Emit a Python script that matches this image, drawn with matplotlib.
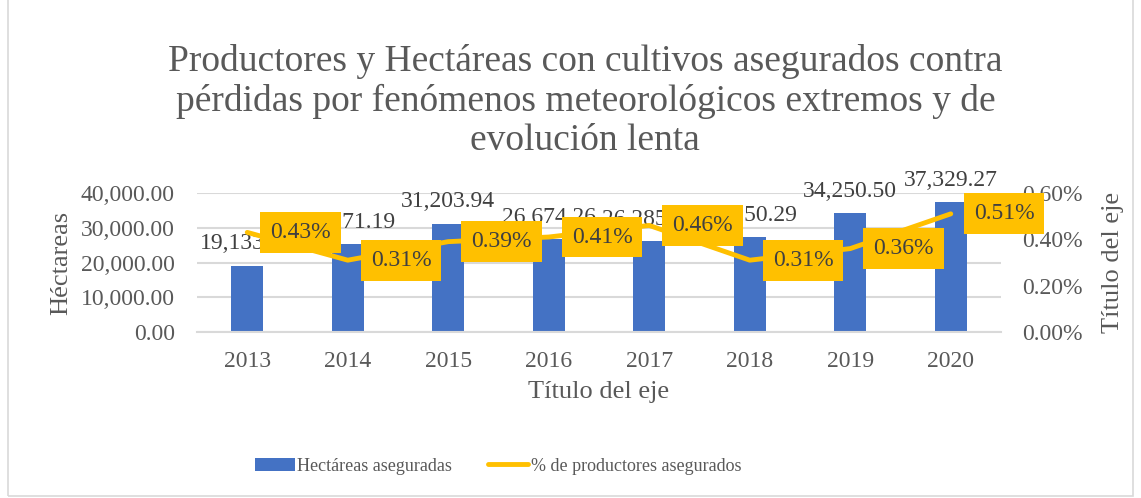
import matplotlib.pyplot as plt
from matplotlib.ticker import FuncFormatter

plt.rcParams['font.family'] = ['Liberation Serif', 'DejaVu Serif']

# datos
anios = ['2013', '2014', '2015', '2016', '2017', '2018', '2019', '2020']
hectareas = [19133.45, 25271.19, 31203.94, 26674.26, 26285.13, 27250.29, 34250.50, 37329.27]
pct_productores = [0.43, 0.31, 0.39, 0.41, 0.46, 0.31, 0.36, 0.51]

azul = '#4472C4'
amarillo = '#FFC000'
gris = '#595959'
gris_osc = '#404040'
rejilla = '#D9D9D9'

fig = plt.figure(figsize=(11.41, 4.98), dpi=100)

# borde del area del grafico
borde = plt.Rectangle((0.007, 0.004), 0.986, 1.2, transform=fig.transFigure,
                      fill=False, edgecolor=rejilla, linewidth=1.2)
fig.add_artist(borde)

fig.text(0.513, 1 - 150 / 498,
         'Productores y Hectáreas con cultivos asegurados contra\n'
         'pérdidas por fenómenos meteorológicos extremos y de\n'
         'evolución lenta',
         ha='center', va='baseline', fontsize=27, color=gris, linespacing=1.17)

ax = fig.add_axes([197 / 1141, 166 / 498, 804 / 1141, 139 / 498])
x = range(len(anios))
ax.bar(x, hectareas, width=0.32, color=azul, zorder=2, label='Hectáreas aseguradas')
ax.set_ylim(0, 40000)
ax.set_xlim(-0.5, len(anios) - 0.5)
ax.set_yticks([0, 10000, 20000, 30000, 40000])
ax.yaxis.set_major_formatter(FuncFormatter(lambda v, p: f'{v:,.2f}'))
ax.set_xticks(list(x))
ax.set_xticklabels(anios)
ax.grid(axis='y', color=rejilla, linewidth=1.5, zorder=0)
ax.set_axisbelow(True)
for s in ['top', 'left', 'right']:
    ax.spines[s].set_visible(False)
ax.spines['bottom'].set_color(rejilla)
ax.spines['bottom'].set_linewidth(1.5)
ax.tick_params(axis='y', length=0, labelsize=17, colors=gris, pad=16)
ax.tick_params(axis='x', length=0, labelsize=17, colors=gris, pad=14)
ax.set_ylabel('Héctareas', fontsize=19, color=gris, labelpad=6)
ax.set_xlabel('Título del eje', fontsize=19, color=gris, labelpad=6)

for xi, h in zip(x, hectareas):
    ax.annotate(f'{h:,.2f}', (xi, h), xytext=(0, 8), textcoords='offset points',
                ha='center', va='bottom', fontsize=17, color=gris_osc, annotation_clip=False)

ax2 = ax.twinx()
ax2.plot(list(x), pct_productores, color=amarillo, linewidth=3.5, solid_capstyle='round',
         label='% de productores asegurados', zorder=3)
ax2.set_ylim(0, 0.6)
ax2.set_yticks([0, 0.2, 0.4, 0.6])
ax2.yaxis.set_major_formatter(FuncFormatter(lambda v, p: f'{v:.2f}%'))
for s in ['top', 'left', 'right', 'bottom']:
    ax2.spines[s].set_visible(False)
ax2.tick_params(length=0, labelsize=17, colors=gris, pad=15)
ax2.set_ylabel('Título del eje', fontsize=19, color=gris, labelpad=14)

for xi, p in zip(x, pct_productores):
    ax2.annotate(f'{p:.2f}%', (xi, p), xytext=(16.5, 0), textcoords='offset points',
                 ha='left', va='center', fontsize=17, color=gris_osc, annotation_clip=False,
                 bbox=dict(boxstyle='square,pad=0.42', facecolor=amarillo, edgecolor='none'),
                 zorder=5)

h1, l1 = ax.get_legend_handles_labels()
h2, l2 = ax2.get_legend_handles_labels()
fig.legend(h1 + h2, l1 + l2, loc='center', bbox_to_anchor=(498 / 1141, 1 - 466 / 498), ncol=2,
           frameon=False, fontsize=13, labelcolor=gris, handlelength=2.2,
           handletextpad=0.15, columnspacing=2.0)

fig.savefig('out.png', dpi=100)
